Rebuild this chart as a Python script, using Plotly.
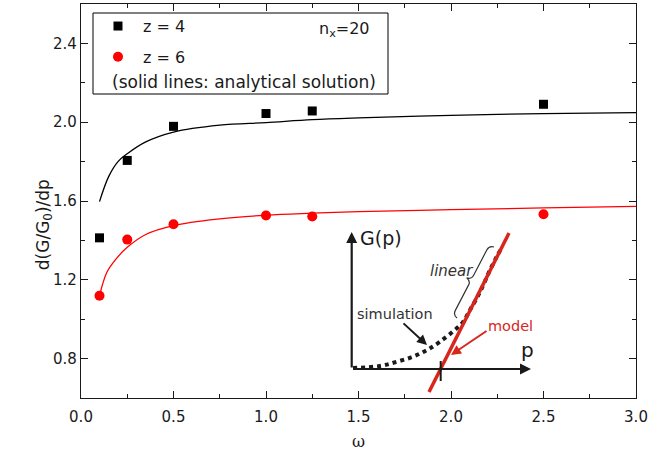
import math
import plotly.graph_objects as go

# ---------------- data ----------------
omega_pts = [0.1, 0.25, 0.5, 1.0, 1.25, 2.5]
z4_sim = [1.413, 1.806, 1.979, 2.044, 2.057, 2.091]
z6_sim = [1.119, 1.404, 1.482, 1.526, 1.521, 1.533]

omega_line_z4 = [0.1, 0.15, 0.2, 0.25, 0.35, 0.5, 0.75, 1.0, 1.25, 1.5, 2.0, 2.5, 3.0]
z4_analytic = [1.597, 1.725, 1.800, 1.840, 1.900, 1.950, 1.985, 1.998, 2.013, 2.022, 2.035, 2.044, 2.049]
omega_line_z6 = [0.1, 0.14, 0.19, 0.25, 0.35, 0.5, 0.75, 1.0, 1.25, 1.5, 2.0, 2.5, 3.0]
z6_analytic = [1.119, 1.238, 1.306, 1.365, 1.430, 1.475, 1.509, 1.528, 1.538, 1.546, 1.556, 1.565, 1.573]

x_ticks = [0.0, 0.5, 1.0, 1.5, 2.0, 2.5, 3.0]
y_ticks = [0.8, 1.2, 1.6, 2.0, 2.4]

FONT = "DejaVu Sans"
RED = "#ff0000"
MODEL_RED = "#d9261c"

# plot area geometry (pixels) used only for the schematic inset drawing
L, R, T, B = 81, 636, 4, 398
XMIN, XMAX, YMIN, YMAX = 0.0, 3.0, 0.6, 2.6


def px(xp, yp):
    """convert figure pixel position to data coordinates (inset schematic)"""
    x = XMIN + (xp - L) / (R - L) * (XMAX - XMIN)
    y = YMAX - (yp - T) / (B - T) * (YMAX - YMIN)
    return x, y


fig = go.Figure()

# analytical lines
fig.add_trace(go.Scatter(x=omega_line_z4, y=z4_analytic, mode="lines", line=dict(color="black", width=1.3, shape="spline"),
                         showlegend=False, hoverinfo="skip"))
fig.add_trace(go.Scatter(x=omega_line_z6, y=z6_analytic, mode="lines", line=dict(color=RED, width=1.3, shape="spline"),
                         showlegend=False, hoverinfo="skip"))
# simulation points
fig.add_trace(go.Scatter(x=omega_pts, y=z4_sim, mode="markers", name="z = 4",
                         marker=dict(symbol="square", size=9, color="black"), legendgroup="a"))
fig.add_trace(go.Scatter(x=omega_pts, y=z6_sim, mode="markers", name="z = 6",
                         marker=dict(symbol="circle", size=10, color=RED), legendgroup="b"))

# ---------------- inset schematic ----------------
sim_curve_px = [(353, 368), (380, 366), (397, 361.7), (413, 356.7), (427, 350), (440, 341.7),
                (456.7, 328.3), (463.3, 321.7), (470, 310), (476.7, 298.3), (483.3, 285),
                (490, 270), (496.7, 256.7), (501, 249)]
cx, cy = zip(*[px(a, b) for a, b in sim_curve_px])
fig.add_trace(go.Scatter(x=list(cx), y=list(cy), mode="lines", showlegend=False, hoverinfo="skip",
                         line=dict(color="#1a1a1a", width=4, dash="dot", shape="spline")))

shapes = []
# legend box
x0, y0 = px(93, 13)
x1, y1 = px(388, 94)
shapes.append(dict(type="rect", xref="x", yref="y", x0=x0, y0=y1, x1=x1, y1=y0,
                   line=dict(color="black", width=1), fillcolor="rgba(0,0,0,0)"))
# model red line
ax0, ay0 = px(429, 392)
ax1, ay1 = px(509, 233)
shapes.append(dict(type="line", xref="x", yref="y", x0=ax0, y0=ay0, x1=ax1, y1=ay1,
                   line=dict(color=MODEL_RED, width=3.5)))
# tick on p-axis
tx0, ty0 = px(440.7, 361)
tx1, ty1 = px(440.7, 381)
shapes.append(dict(type="line", xref="x", yref="y", x0=tx0, y0=ty0, x1=tx1, y1=ty1,
                   line=dict(color="#1a1a1a", width=2)))

# curly brace next to the linear part
A = (457, 318)
Bp = (494, 247)
dx, dy = Bp[0] - A[0], Bp[1] - A[1]
ln = math.hypot(dx, dy)
u = (dx / ln, dy / ln)
n = (-u[1], u[0])
if n[0] > 0:
    n = (-n[0], -n[1])
M = ((A[0] + Bp[0]) / 2, (A[1] + Bp[1]) / 2)


def P(base, su, sn):
    return (base[0] + u[0] * su + n[0] * sn, base[1] + u[1] * su + n[1] * sn)


brace_px = [A, P(A, 1, 5), P(A, 6, 5), P(M, -5, 5), P(M, -1, 5), P(M, 0, 10), P(M, 1, 5), P(M, 5, 5),
            P(Bp, -6, 5), P(Bp, -1, 5), Bp]
bd = [px(a, b) for a, b in brace_px]
path = "M {},{} Q {},{} {},{} L {},{} Q {},{} {},{} Q {},{} {},{} L {},{} Q {},{} {},{}".format(
    bd[0][0], bd[0][1], bd[1][0], bd[1][1], bd[2][0], bd[2][1],
    bd[3][0], bd[3][1], bd[4][0], bd[4][1], bd[5][0], bd[5][1],
    bd[6][0], bd[6][1], bd[7][0], bd[7][1],
    bd[8][0], bd[8][1], bd[9][0], bd[9][1], bd[10][0], bd[10][1])
shapes.append(dict(type="path", xref="x", yref="y", path=path, line=dict(color="#333333", width=1.2)))

annotations = []


def arrow(tail, head, color, width, size=1.0):
    hx, hy = px(*head)
    tx, ty = px(*tail)
    annotations.append(dict(x=hx, y=hy, ax=tx, ay=ty, xref="x", yref="y", axref="x", ayref="y",
                            showarrow=True, arrowhead=2, arrowsize=size, arrowwidth=width,
                            arrowcolor=color, text=""))


# inset axes with arrows
arrow((351.7, 369), (351.7, 232), "#1a1a1a", 2.2, 1.0)
arrow((351.7, 369), (531, 369), "#1a1a1a", 2.2, 1.0)
# pointer arrows
arrow((402, 322), (427, 345), "#1a1a1a", 2.0, 1.0)
arrow((488, 330), (451, 355), MODEL_RED, 2.0, 1.0)


def label(xp, yp, text, size, color="#1a1a1a", italic=False, anchor="center", family=FONT):
    x, y = px(xp, yp)
    annotations.append(dict(x=x, y=y, xref="x", yref="y", text=text, showarrow=False,
                            xanchor=anchor, yanchor="middle",
                            font=dict(family=family, size=size, color=color,
                                      style="italic" if italic else "normal")))


label(381, 238, "G(p)", 19)
label(527, 350, "p", 20)
label(394.5, 314, "simulation", 14.5, "#333333")
label(451.5, 271, "linear", 15, "#333333", italic=True)
label(510, 326, "model", 14.5, MODEL_RED)

# legend extra texts
label(344, 29, "n<sub>x</sub>=20", 16)
label(244, 82, "(solid lines: analytical solution)", 17)

# axis titles
annotations.append(dict(x=-0.09, y=0.44, xref="paper", yref="paper", text="d(G/G<sub>0</sub>)/dp",
                        textangle=-90, showarrow=False, font=dict(family=FONT, size=17, color="#1a1a1a")))
annotations.append(dict(x=0.5, y=-0.11, xref="paper", yref="paper", text="ω", showarrow=False,
                        yanchor="middle", font=dict(family="DejaVu Serif", size=16, color="#1a1a1a")))

axis_common = dict(showline=True, linecolor="#1a1a1a", linewidth=1.3, mirror="ticks", ticks="inside",
                   ticklen=7, tickwidth=1.2, tickcolor="#1a1a1a", showgrid=False, zeroline=False,
                   tickfont=dict(family=FONT, size=15, color="#1a1a1a"))

fig.update_layout(
    width=648, height=461,
    margin=dict(l=L, r=648 - R, t=T, b=461 - B),
    paper_bgcolor="white", plot_bgcolor="white",
    xaxis=dict(range=[XMIN, XMAX], tickvals=x_ticks, ticktext=[f"{v:.1f}" for v in x_ticks],
               minor=dict(dtick=0.25, tick0=0, ticks="inside", ticklen=4, tickcolor="#1a1a1a"),
               automargin=False, ticklabelstandoff=5, **axis_common),
    yaxis=dict(range=[YMIN, YMAX], tickvals=y_ticks, ticktext=[f"{v:.1f}" for v in y_ticks],
               minor=dict(dtick=0.2, tick0=0.6, ticks="inside", ticklen=4, tickcolor="#1a1a1a"),
               automargin=False, **axis_common),
    showlegend=True,
    legend=dict(x=0.0216, y=0.987, xanchor="left", yanchor="top", bgcolor="rgba(0,0,0,0)",
                borderwidth=0, font=dict(family=FONT, size=16, color="#1a1a1a"),
                itemwidth=40, tracegroupgap=7),
    shapes=shapes,
    annotations=annotations,
)

fig.write_html("out.html", config={"displayModeBar": False},
               post_script="document.body.style.margin='0';document.body.style.padding='0';")
